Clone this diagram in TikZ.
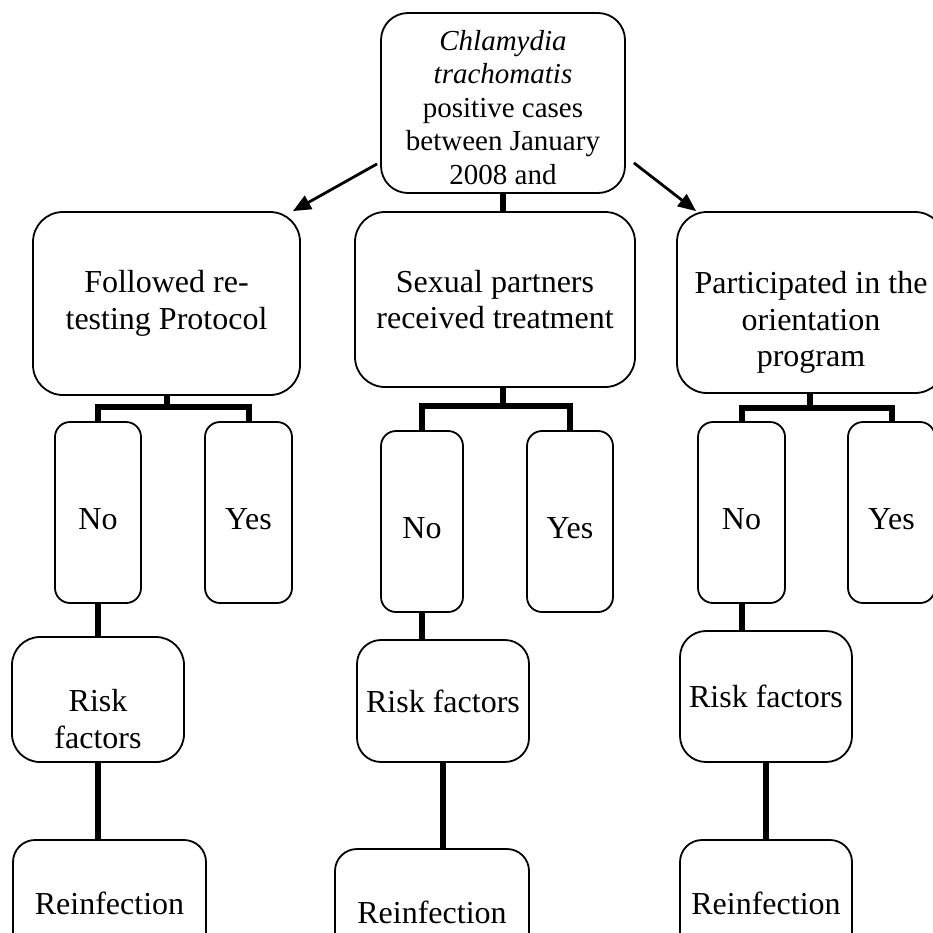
\documentclass[tikz,border=0pt]{standalone}
\usepackage{fontspec}
\setmainfont{Liberation Serif}
\usetikzlibrary{arrows.meta,calc}
\newcommand\mystrut[1]{\rule{0pt}{#1}}
\begin{document}
\begin{tikzpicture}[x=1pt,y=-1pt,
  box/.style={draw, line width=1.8pt, rounded corners=#1, inner sep=0pt, align=center,
              font=\fontsize{32}{36.8}\selectfont},
  box/.default=28pt,
  conn/.style={line width=6pt},
  arr/.style={line width=2.8pt, -{Triangle[length=18pt,width=15pt]}}]
\useasboundingbox (0,0) rectangle (933,932);
\clip (0,0) rectangle (933,932);

% top
\node[box=27pt, minimum width=244pt, minimum height=180pt,
      font=\fontsize{29}{33.4}\selectfont] (top) at (503,103)
  {\mystrut{28.8pt}\textit{Chlamydia}\\\textit{trachomatis}\\positive cases\\between January\\2008 and};

% second row
\node[box=30pt, minimum width=267pt, minimum height=183pt] (L1) at (166.5,303.5)
  {Followed re-\\testing Protocol};
\node[box=30pt, minimum width=280pt, minimum height=175pt] (M1) at (495,299.5)
  {Sexual partners\\received treatment};
\node[box=30pt, minimum width=268pt, minimum height=181pt] (R1) at (811,302.5)
  {\mystrut{62pt}Participated in the\\orientation\\program};

% yes / no
\node[box=15pt, minimum width=86pt, minimum height=181pt] (noL) at (98,512.5) {\mystrut{34pt}No};
\node[box=15pt, minimum width=87pt, minimum height=181pt] (yesL) at (248.5,512.5) {\mystrut{34pt}Yes};
\node[box=15pt, minimum width=82pt, minimum height=181pt] (noM) at (422,521.5) {\mystrut{34pt}No};
\node[box=15pt, minimum width=86pt, minimum height=181pt] (yesM) at (570,521.5) {\mystrut{34pt}Yes};
\node[box=15pt, minimum width=87pt, minimum height=181pt] (noR) at (741.5,512.5) {\mystrut{34pt}No};
\node[box=15pt, minimum width=87pt, minimum height=181pt] (yesR) at (891.5,512.5) {\mystrut{34pt}Yes};

% risk factors
\node[box=28pt, minimum width=172pt, minimum height=125pt] (riskL) at (98,699.5) {\mystrut{62pt}Risk\\factors};
\node[box=24pt, minimum width=172pt, minimum height=122pt] (riskM) at (443,701) {Risk factors};
\node[box=26pt, minimum width=172pt, minimum height=131pt] (riskR) at (766,696.5) {Risk factors};

% reinfection
\node[box=22pt, minimum width=193pt, minimum height=126pt] (reinfL) at (109.5,903) {Reinfection};
\node[box=22pt, minimum width=194pt, minimum height=126pt] (reinfM) at (432,912) {Reinfection};
\node[box=22pt, minimum width=172pt, minimum height=126pt] (reinfR) at (766,903) {Reinfection};

% arrows from top
\draw[arr] ([shift={(-3,-30)}]top.south west) -- ([shift={(-8,0)}]L1.north east);
\draw[arr] ([shift={(8,-31)}]top.south east) -- ([shift={(20,0)}]R1.north west);
\draw[conn] (top.south) -- (top.south |- M1.north);

% branch bars
\coordinate (bL) at (167,407);
\coordinate (bM) at (503,406);
\coordinate (bR) at (810,408);
\draw[conn] (L1.south -| bL) -- (bL);
\draw[conn] (noL.north) |- (bL) -| (yesL.north);
\draw[conn] (M1.south -| bM) -- (bM);
\draw[conn] (noM.north) |- (bM) -| (yesM.north);
\draw[conn] (R1.south -| bR) -- (bR);
\draw[conn] (noR.north) |- (bR) -| (yesR.north);

% downward chains
\draw[conn] (noL.south) -- (noL.south |- riskL.north);
\draw[conn] (riskL.south) -- (riskL.south |- reinfL.north);
\draw[conn] (noM.south) -- (noM.south |- riskM.north);
\draw[conn] (riskM.south) -- (riskM.south |- reinfM.north);
\draw[conn] (noR.south) -- (noR.south |- riskR.north);
\draw[conn] (riskR.south) -- (riskR.south |- reinfR.north);
\end{tikzpicture}
\end{document}
